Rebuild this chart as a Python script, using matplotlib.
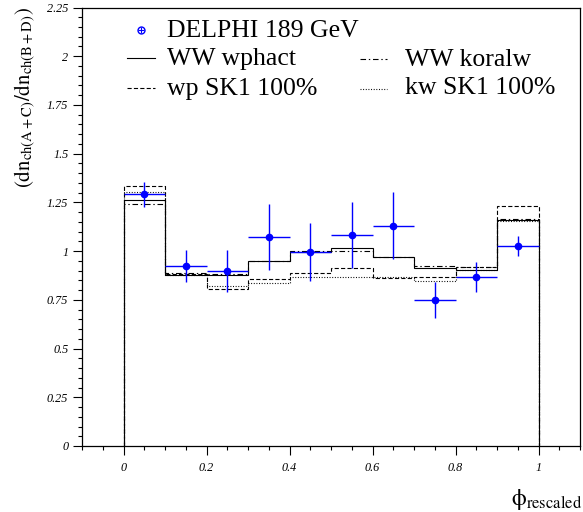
import numpy as np
import matplotlib
matplotlib.use('Agg')
import matplotlib.pyplot as plt
from matplotlib.lines import Line2D
from matplotlib.ticker import MultipleLocator, FuncFormatter

plt.rcParams['font.family'] = ['Liberation Serif', 'DejaVu Serif']
plt.rcParams['mathtext.fontset'] = 'stix'
plt.rcParams['lines.scale_dashes'] = False

# bin edges in phi_rescaled
edges = np.linspace(0.0, 1.0, 11)
centers = 0.5 * (edges[:-1] + edges[1:])

# DELPHI 189 GeV data
data_ratio = [1.291, 0.923, 0.900, 1.072, 0.996, 1.084, 1.131, 0.748, 0.866, 1.027]
data_err = [0.066, 0.084, 0.108, 0.170, 0.150, 0.170, 0.172, 0.092, 0.077, 0.053]

# Monte Carlo predictions
ww_wphact = [1.263, 0.878, 0.875, 0.947, 0.993, 1.014, 0.968, 0.912, 0.904, 1.161]
ww_koralw = [1.241, 0.890, 0.880, 0.950, 1.000, 1.000, 0.970, 0.924, 0.916, 1.163]
wp_sk1 = [1.332, 0.885, 0.806, 0.857, 0.887, 0.913, 0.862, 0.866, 0.916, 1.234]
kw_sk1 = [1.303, 0.875, 0.823, 0.838, 0.866, 0.866, 0.865, 0.845, 0.905, 1.155]

DASHED = (0, (3.0, 1.6))
DASHDOT = (0, (4.0, 2.0, 1.0, 2.0))
DOTTED = (0, (0.7, 1.2))

W, H = 583, 512
fig = plt.figure(figsize=(W / 100, H / 100), dpi=100)
ax = fig.add_axes([82 / W, 1 - 446 / H, (580 - 82) / W, (446 - 7.5) / H])

ax.stairs(wp_sk1, edges, baseline=0, color='black', lw=0.8, linestyle=DASHED)
ax.stairs(kw_sk1, edges, baseline=0, color='black', lw=0.8, linestyle=DOTTED)
ax.stairs(ww_koralw, edges, baseline=0, color='black', lw=0.8, linestyle=DASHDOT)
ax.stairs(ww_wphact, edges, baseline=0, color='black', lw=0.8)

ax.errorbar(centers, data_ratio, xerr=0.05, yerr=data_err, fmt='o',
            color='#0000ff', ms=4.5, elinewidth=1.0, capsize=0)

ax.set_xlim(-0.1, 1.1)
ax.set_ylim(0, 2.25)
ax.xaxis.set_major_locator(MultipleLocator(0.2))
ax.xaxis.set_minor_locator(MultipleLocator(0.05))
ax.yaxis.set_major_locator(MultipleLocator(0.25))
ax.yaxis.set_minor_locator(MultipleLocator(0.05))


def fmt(v, pos):
    s = '%g' % round(v, 3)
    return s


ax.xaxis.set_major_formatter(FuncFormatter(fmt))
ax.yaxis.set_major_formatter(FuncFormatter(fmt))
ax.tick_params(which='major', length=6.3, width=0.8, direction='out', labelsize=8.7)
ax.tick_params(which='minor', length=3.1, width=0.8, direction='out')
ax.tick_params(axis='x', pad=5)
ax.tick_params(axis='y', pad=3.5)
for lab in ax.get_xticklabels() + ax.get_yticklabels():
    lab.set_fontstyle('italic')
for sp in ax.spines.values():
    sp.set_linewidth(0.9)

# axis titles
fig.text(25 / W, 1 - 98 / H,
         r'$(\mathrm{dn}_{\mathrm{ch(A+C)}}/\mathrm{dn}_{\mathrm{ch(B+D)}})$',
         rotation=90, ha='center', va='center', fontsize=15)
fig.text(582 / W, 1 - 505 / H, r'$\mathrm{\phi}_{\mathrm{rescaled}}$',
         ha='right', va='baseline', fontsize=17)

# legend
def fx(px):
    return px / W


def fy(py):
    return 1 - py / H


fig.add_artist(Line2D([fx(140.7)], [fy(30)], marker='o', ms=5, mfc='none',
                      mec='#0000ff', mew=1.0))
fig.add_artist(Line2D([fx(140.7)], [fy(30)], marker='+', ms=5, color='#0000ff', mew=0.8))
fig.add_artist(Line2D([fx(127), fx(155)], [fy(58.3), fy(58.3)], color='black', lw=0.8))
fig.add_artist(Line2D([fx(127), fx(155)], [fy(88.3), fy(88.3)], color='black', lw=0.8,
                      linestyle=DASHED))
fig.add_artist(Line2D([fx(360), fx(387)], [fy(59), fy(59)], color='black', lw=0.8,
                      linestyle=DASHDOT))
fig.add_artist(Line2D([fx(360), fx(387)], [fy(88.5), fy(88.5)], color='black', lw=0.8,
                      linestyle=DOTTED))

fs = 18.5
fig.text(fx(167), fy(36.7), 'DELPHI 189 GeV', fontsize=fs, va='baseline')
fig.text(fx(167), fy(65.5), 'WW wphact', fontsize=fs, va='baseline')
fig.text(fx(167), fy(94.5), 'wp SK1 100%', fontsize=fs, va='baseline')
fig.text(fx(405), fy(65.5), 'WW koralw', fontsize=fs, va='baseline')
fig.text(fx(405), fy(94.5), 'kw SK1 100%', fontsize=fs, va='baseline')

fig.savefig('out.png', dpi=100)
